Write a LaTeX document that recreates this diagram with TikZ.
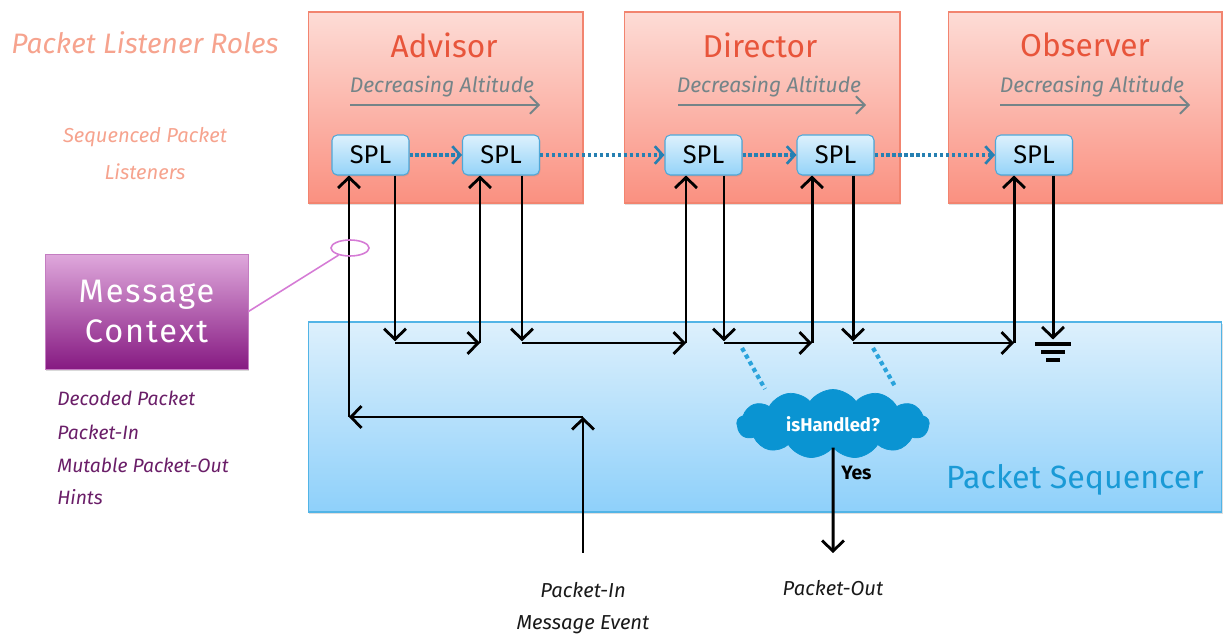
\documentclass[tikz,border=0pt]{standalone}
\usepackage{fontspec}
\setmainfont{Fira Sans}
\usetikzlibrary{arrows.meta,shapes.symbols,shapes.geometric,shadows,calc}

\definecolor{roletop}{HTML}{FDDCD6}
\definecolor{rolebot}{HTML}{FA9080}
\definecolor{roleedge}{HTML}{F2846F}
\definecolor{roletitle}{HTML}{E8553B}
\definecolor{altgray}{HTML}{748488}
\definecolor{spltop}{HTML}{DDF1FD}
\definecolor{splbot}{HTML}{94D3F8}
\definecolor{spledge}{HTML}{4FA8D8}
\definecolor{chain}{HTML}{2680B2}
\definecolor{seqtop}{HTML}{DDF0FC}
\definecolor{seqbot}{HTML}{8ED0FA}
\definecolor{seqedge}{HTML}{52B4E6}
\definecolor{seqtext}{HTML}{1A9AD6}
\definecolor{cloudblue}{HTML}{0A94D2}
\definecolor{checkblue}{HTML}{2AA3DB}
\definecolor{msgtop}{HTML}{DFA8DC}
\definecolor{msgbot}{HTML}{861A82}
\definecolor{msglist}{HTML}{6A1E68}
\definecolor{msglink}{HTML}{D57BD5}
\definecolor{salmon}{HTML}{F6A38E}

\tikzset{
  rolebox/.style={draw=roleedge, line width=0.6pt, top color=roletop, bottom color=rolebot,
    minimum height=3.82cm, inner sep=0pt,
    drop shadow={shadow xshift=0.6pt, shadow yshift=-1.2pt, opacity=0.25}},
  roletitle/.style={text=roletitle, font=\fontsize{18}{20}\selectfont},
  altlabel/.style={text=altgray, font=\itshape\fontsize{12}{14}\selectfont},
  altarrow/.style={draw=altgray, line width=1.1pt, -{Straight Barb[length=5pt,width=10pt,line width=1.1pt]}},
  splbox/.style={draw=spledge, line width=0.6pt, rounded corners=3pt, top color=spltop, bottom color=splbot,
    minimum width=1.54cm, minimum height=0.8cm, inner sep=0pt, font=\fontsize{14.5}{16}\selectfont,
    drop shadow={shadow xshift=0.5pt, shadow yshift=-0.8pt, opacity=0.25}},
  chainarrow/.style={draw=chain, line width=1.8pt, dash pattern=on 1.8pt off 1.6pt,
    -{Straight Barb[length=4.5pt,width=10pt,line width=1.5pt]}},
  flow/.style={draw=black, line width=1.7pt, -{Straight Barb[length=6pt,width=12.5pt,line width=1.6pt]}},
  plain/.style={draw=black, line width=1.8pt},
  seqbox/.style={draw=seqedge, line width=0.6pt, top color=seqtop, bottom color=seqbot,
    minimum width=18.28cm, minimum height=3.8cm, inner sep=0pt,
    drop shadow={shadow xshift=0.6pt, shadow yshift=-1.2pt, opacity=0.25}},
  msgbox/.style={draw=msgtop!70!msgbot, line width=0.5pt, top color=msgtop, bottom color=msgbot,
    minimum width=4.06cm, minimum height=2.3cm, inner sep=0pt, text=white, align=center,
    font=\fontsize{18.5}{23}\selectfont\addfontfeatures{LetterSpace=6},
    drop shadow={shadow xshift=0.8pt, shadow yshift=-1.4pt, opacity=0.3}},
  listitem/.style={text=msglist, font=\itshape\fontsize{11}{13}\selectfont, anchor=west, inner sep=0pt},
  eventlabel/.style={text=black!90, font=\itshape\fontsize{11.5}{13}\selectfont, inner sep=0pt},
  checkdot/.style={draw=checkblue, line width=2.4pt, dash pattern=on 2.4pt off 2pt},
}

\begin{document}
\begin{tikzpicture}[x=0.02cm, y=-0.02cm]
\useasboundingbox (0,0) rectangle (1228,638);

% ---------- listener role panels ----------
\node[rolebox, minimum width=5.5cm]  (advisor)  at (445.5,107.5) {};
\node[rolebox, minimum width=5.52cm] (director) at (762,107.5) {};
\node[rolebox, minimum width=5.48cm] (observer) at (1085,107.5) {};

\node[roletitle] (tadv) at (444,45)  {Advisor};
\node[roletitle] (tdir) at (760,45)  {Director};
\node[roletitle] (tobs) at (1085,45) {Observer};

\node[altlabel] (aadv) at (442,87)  {Decreasing Altitude};
\node[altlabel] (adir) at (769,87)  {Decreasing Altitude};
\node[altlabel] (aobs) at (1092,87) {Decreasing Altitude};
\coordinate (aadv1) at (350,105);  \coordinate (aadv2) at (540,105);
\coordinate (adir1) at (678,105);  \coordinate (adir2) at (866,105);
\coordinate (aobs1) at (1000,105); \coordinate (aobs2) at (1190,105);
\draw[altarrow] (aadv1) -- (aadv2);
\draw[altarrow] (adir1) -- (adir2);
\draw[altarrow] (aobs1) -- (aobs2);

% ---------- packet sequencer ----------
\node[seqbox] (seq) at (765,417) {};
\node[text=seqtext, font=\fontsize{18.3}{20}\selectfont] (seqlabel) at (1075,480) {Packet Sequencer};

% ---------- sequenced packet listeners ----------
\node[splbox] (A1) at (370.5,155) {SPL};
\node[splbox] (A2) at (501,155)   {SPL};
\node[splbox] (D1) at (703.5,155) {SPL};
\node[splbox] (D2) at (835.5,155) {SPL};
\node[splbox] (O1) at (1034,155)  {SPL};

\draw[chainarrow] (A1) -- (A2);
\draw[chainarrow] (A2) -- (D1);
\draw[chainarrow] (D1) -- (D2);
\draw[chainarrow] (D2) -- (O1);

% ---------- dispatch bus ----------
\coordinate (A1out) at (395,343); \coordinate (A2in)  at (480,343);
\coordinate (A2out) at (522,343); \coordinate (D1in)  at (686,343);
\coordinate (D1out) at (724,343); \coordinate (D2in)  at (812,343);
\coordinate (D2out) at (853,343); \coordinate (O1in)  at (1014,343);
\coordinate (O1out) at (1053,343);

\draw[flow] (A1.south -| A1out) -- ([yshift=1pt]A1out);
\draw[flow] (A1out) -- (A2in);
\draw[flow] (A2in) -- (A2.south -| A2in);
\draw[flow] (A2.south -| A2out) -- ([yshift=1pt]A2out);
\draw[flow] (A2out) -- (D1in);
\draw[flow] (D1in) -- (D1.south -| D1in);
\draw[flow] (D1.south -| D1out) -- ([yshift=1pt]D1out);
\draw[flow] (D1out) -- (D2in);
\draw[flow] (D2in) -- (D2.south -| D2in);
\draw[flow] (D2.south -| D2out) -- ([yshift=1pt]D2out);
\draw[flow] (D2out) -- (O1in);
\draw[flow] (O1in) -- (O1.south -| O1in);
\draw[flow] (O1.south -| O1out) -- ([yshift=2pt]O1out);

% ground at the end of the chain
\coordinate (g1l) at (1035,344); \coordinate (g1r) at (1071,344);
\coordinate (g2l) at (1041,352); \coordinate (g2r) at (1065,352);
\coordinate (g3l) at (1046,360); \coordinate (g3r) at (1060,360);
\draw[plain] (g1l) -- (g1r);
\draw[plain] (g2l) -- (g2r);
\draw[plain] (g3l) -- (g3r);

% ---------- incoming packet ----------
\coordinate (pinsrc)  at (583,553);
\coordinate (pinup)   at (583,417);
\coordinate (pinturn) at (349,417);
\draw[flow] (pinsrc) -- (pinup);
\draw[flow] (pinup) -- (pinturn);
\draw[flow] (pinturn) -- (A1.south -| pinturn);
\node[eventlabel] (pin1) at (583,590) {Packet-In};
\node[eventlabel] (pin2) at (583,625) {Message Event};

% ---------- handled check ----------
\node[cloud, cloud puffs=13, cloud puff arc=110, aspect=2.8, fill=cloudblue, draw=cloudblue,
      minimum width=3.85cm, minimum height=1.38cm, inner sep=0pt,
      text=white, font=\bfseries\fontsize{10.5}{12}\selectfont] (check) at (833,424) {isHandled?};
\coordinate (chk1a) at (742,348); \coordinate (chk1b) at (765,389);
\coordinate (chk2a) at (873,348); \coordinate (chk2b) at (896,388);
\draw[checkdot] (chk1a) -- (chk1b);
\draw[checkdot] (chk2a) -- (chk2b);
\coordinate (pout) at (833,553);
\draw[flow] (check.south) -- (pout);
\node[font=\bfseries\fontsize{11}{13}\selectfont, anchor=west, inner sep=0pt] (yes) at (841,473) {Yes};
\node[eventlabel] (poutlabel) at (833,588) {Packet-Out};

% ---------- left-hand legend ----------
\node[text=salmon, font=\itshape\fontsize{16}{18}\selectfont] (roles) at (145,43) {Packet Listener Roles};
\node[text=salmon, font=\itshape\fontsize{11.5}{13}\selectfont] (spl1) at (145,137) {Sequenced Packet};
\node[text=salmon, font=\itshape\fontsize{11.5}{13}\selectfont] (spl2) at (145,172) {Listeners};

\node[msgbox] (msg) at (146.5,311.5) {Message\\Context};
\node[draw=msglink, line width=0.9pt, ellipse, minimum width=0.76cm, minimum height=0.32cm, inner sep=0pt] (ctx) at (350,248) {};
\draw[draw=msglink, line width=0.9pt] (msg.east) -- (ctx);

\node[listitem] (li1) at (57,398) {Decoded Packet};
\node[listitem] (li2) at (57,432) {Packet-In};
\node[listitem] (li3) at (57,465) {Mutable Packet-Out};
\node[listitem] (li4) at (57,497) {Hints};
\end{tikzpicture}
\end{document}
